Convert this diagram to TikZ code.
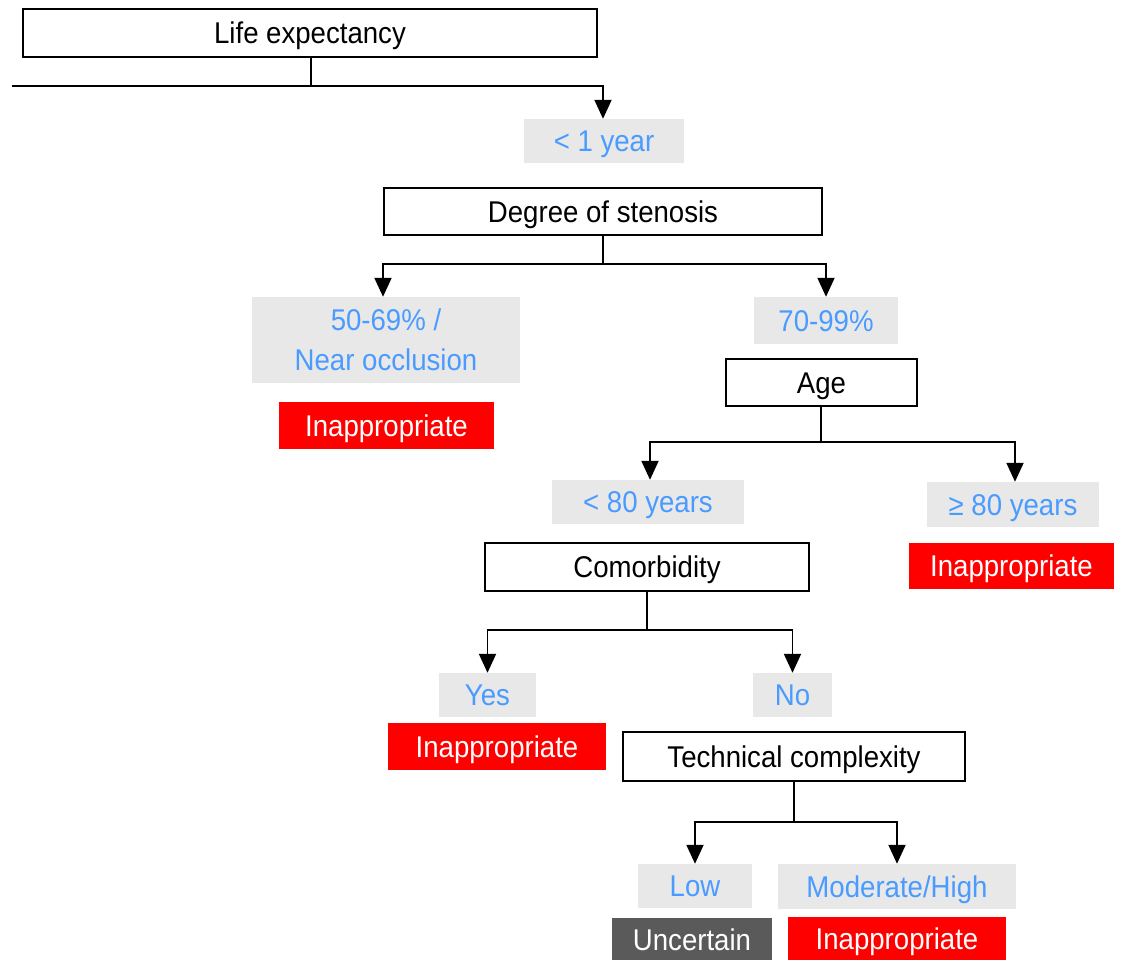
\documentclass[tikz,border=0pt]{standalone}
\usepackage{fontspec}
\setmainfont[FakeStretch=0.92]{Liberation Sans}
\usetikzlibrary{arrows.meta}
\definecolor{condgray}{HTML}{E8E8E8}
\definecolor{condblue}{HTML}{4A9BFF}
\definecolor{uncgray}{HTML}{5A5A5A}
\definecolor{inred}{HTML}{FF0000}
\tikzset{
  base/.style={inner sep=0pt, font=\fontsize{30}{40}\selectfont, text height=21.5pt, text depth=0pt, align=center},
  qbox/.style={base, draw=black, line width=1.9pt, fill=white},
  cond/.style={base, fill=condgray, text=condblue},
  inap/.style={base, fill=inred, text=white},
  unc/.style={base, fill=uncgray, text=white},
  conn/.style={line width=1.9pt, draw=black},
  arr/.style={conn, -{Triangle[length=19pt,width=17pt]}},
}
\begin{document}
\begin{tikzpicture}[x=1pt,y=-1pt]
\useasboundingbox (0,0) rectangle (1122,960);
% question boxes
\node[qbox, minimum width=574, minimum height=48] (life) at (310,33) {Life expectancy};
\node[qbox, minimum width=438, minimum height=47] (deg) at (603,211.5) {Degree of stenosis};
\node[qbox, minimum width=191, minimum height=47] (age) at (821.5,382.5) {Age};
\node[qbox, minimum width=324, minimum height=48] (com) at (647,567) {Comorbidity};
\node[qbox, minimum width=342, minimum height=49] (tech) at (794,756.5) {Technical complexity};
% condition boxes
\node[cond, minimum width=160, minimum height=44] (y1) at (604,141) {< 1 year};
\node[cond, minimum width=268, minimum height=86, text height=, text depth=] (s50) at (386,340) {50-69\% /\\Near occlusion};
\node[cond, minimum width=144, minimum height=47] (s70) at (826,320.5) {70-99\%};
\node[cond, minimum width=192, minimum height=44] (lt80) at (648,502) {< 80 years};
\node[cond, minimum width=172, minimum height=45] (ge80) at (1013,504.5) {≥ 80 years};
\node[cond, minimum width=97, minimum height=44] (yes) at (487.5,695) {Yes};
\node[cond, minimum width=79, minimum height=44] (no) at (792.5,695) {No};
\node[cond, minimum width=114, minimum height=44] (low) at (695,886) {Low};
\node[cond, minimum width=238, minimum height=45] (mod) at (897,886.5) {Moderate/High};
% outcomes
\node[inap, minimum width=215, minimum height=47] (o1) at (386.5,425.5) {Inappropriate};
\node[inap, minimum width=205, minimum height=46] (o2) at (1011.5,566) {Inappropriate};
\node[inap, minimum width=218, minimum height=47] (o3) at (497,746.5) {Inappropriate};
\node[unc, minimum width=160, minimum height=44] (o4) at (692,940) {Uncertain};
\node[inap, minimum width=218, minimum height=44] (o5) at (897,939) {Inappropriate};
% connectors
\coordinate (j1) at (311,86);
\coordinate (lend) at (12,86);
\draw[conn] (life.south -| j1) -- (j1);
\draw[arr] (lend) -- (j1) -| ([xshift=-1pt]y1.north);
\coordinate (j2) at (603,264);
\draw[conn] (deg.south) -- (j2);
\draw[arr] (j2) -| ([xshift=-3pt]s50.north);
\draw[arr] (j2) -| (s70.north);
\coordinate (j3) at (821,442);
\draw[conn] (age.south -| j3) -- (j3);
\draw[arr] (j3) -| ([xshift=2pt]lt80.north);
\draw[arr] (j3) -| ([xshift=2pt]ge80.north);
\coordinate (j4) at (647,630);
\draw[conn] (com.south) -- (j4);
\draw[arr] (j4) -| (yes.north);
\draw[arr] (j4) -| (no.north);
\coordinate (j5) at (794,822);
\draw[conn] (tech.south) -- (j5);
\draw[arr] (j5) -| (low.north);
\draw[arr] (j5) -| (mod.north);
\end{tikzpicture}
\end{document}
